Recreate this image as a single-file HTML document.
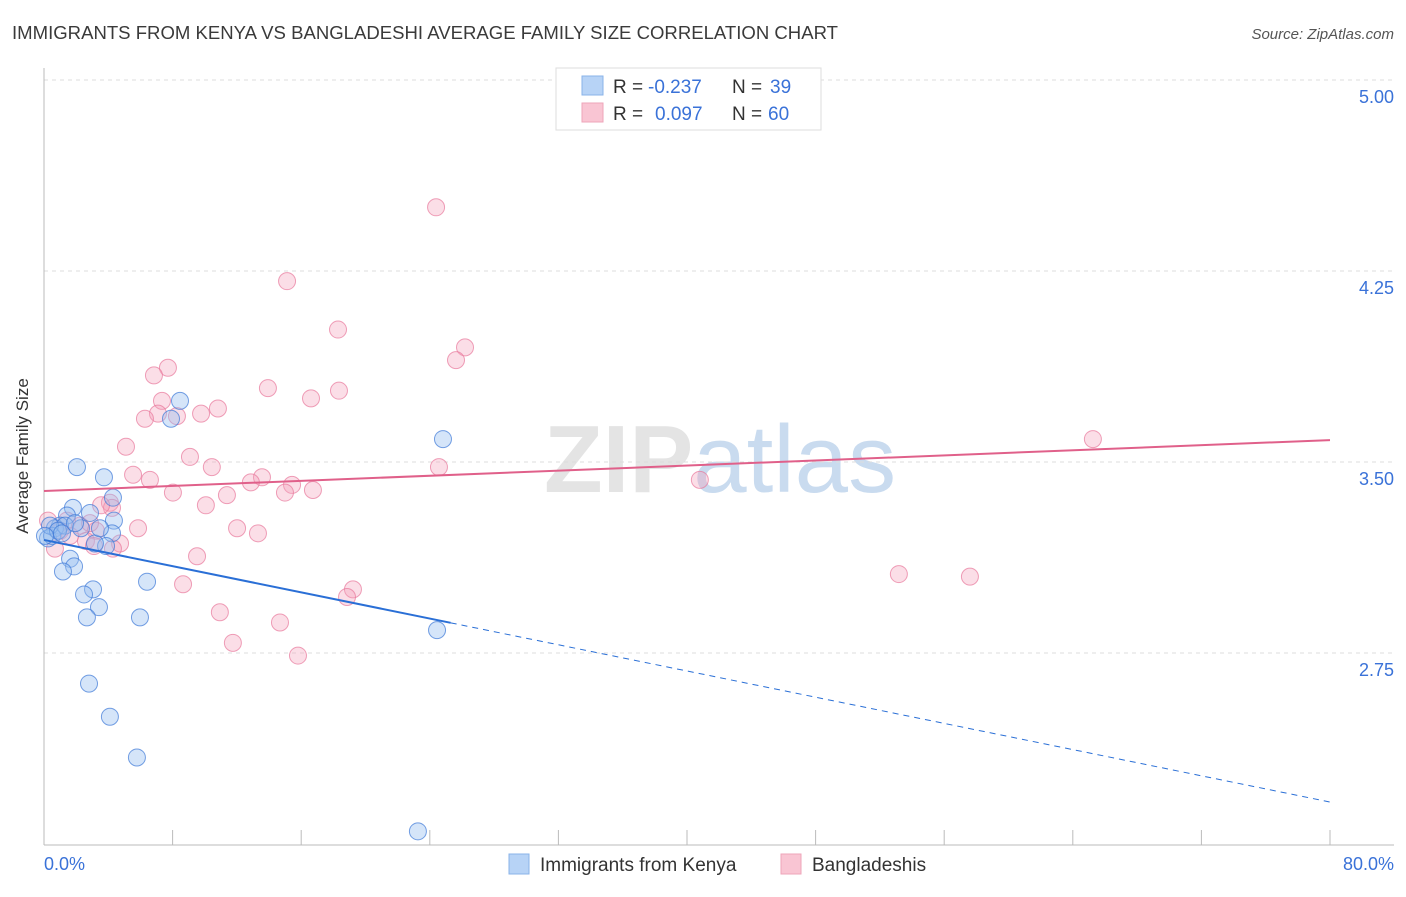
<!DOCTYPE html>
<html><head><meta charset="utf-8"><style>
body{margin:0;background:#fff;font-family:"Liberation Sans",sans-serif;}
svg text{font-family:"Liberation Sans",sans-serif;}
</style></head><body>
<svg id="c" width="1406" height="892">
<text x="12" y="39" font-size="18" fill="#3a3a3a" textLength="826" lengthAdjust="spacingAndGlyphs">IMMIGRANTS FROM KENYA VS BANGLADESHI AVERAGE FAMILY SIZE CORRELATION CHART</text>
<text x="1394" y="39" font-size="15" fill="#555" text-anchor="end" font-style="italic">Source: ZipAtlas.com</text>
<text x="720" y="492" font-size="96" fill="#e4e4e4" text-anchor="middle" font-weight="bold">ZIP<tspan fill="#c9dbef" font-weight="normal">atlas</tspan></text>
<g id="grid"></g><g id="axes"></g><g id="pts"></g><g id="lines"></g>
<text x="28" y="456" font-size="17" fill="#333" text-anchor="middle" transform="rotate(-90 28 456)">Average Family Size</text>
<text x="44" y="870" font-size="18" fill="#3a72d8">0.0%</text>
<text x="1394" y="870" font-size="18" fill="#3a72d8" text-anchor="end">80.0%</text>
<g>
<rect x="556" y="68" width="265" height="62" fill="#fff" stroke="#ddd"/>
<rect x="582" y="76" width="21" height="19" fill="#b7d3f6" stroke="#8ab3e8"/>
<rect x="582" y="103" width="21" height="19" fill="#f9c5d3" stroke="#eea5b9"/>
<text x="613" y="93" font-size="19" fill="#333">R = <tspan x="648" fill="#3a72d8">-0.237</tspan><tspan x="732">N = </tspan><tspan x="770" fill="#3a72d8">39</tspan></text>
<text x="613" y="120" font-size="19" fill="#333">R = <tspan x="655" fill="#3a72d8">0.097</tspan><tspan x="732">N = </tspan><tspan x="768" fill="#3a72d8">60</tspan></text>
</g>
<g>
<rect x="509" y="854" width="20" height="20" fill="#b7d3f6" stroke="#8ab3e8"/>
<text x="540" y="871" font-size="19" fill="#333">Immigrants from Kenya</text>
<rect x="781" y="854" width="20" height="20" fill="#f9c5d3" stroke="#eea5b9"/>
<text x="812" y="871" font-size="19" fill="#333">Bangladeshis</text>
</g>
</svg>
<script>
const yTicks=[2.75,3.5,4.25,5.0];
const yTickLabels=["2.75","3.50","4.25","5.00"];
const xTicks=[0,8,16,24,32,40,48,56,64,72,80];
const kenyaX=[2.05,3.73,4.29,8.46,7.9,24.82,1.8,1.43,2.86,4.35,1.0,0.68,0.25,0.5,1.31,2.3,4.23,3.86,3.17,1.62,1.87,1.18,3.05,2.49,3.42,2.67,5.97,6.41,24.45,2.8,4.1,5.78,23.26,0.37,0.87,0.06,1.12,1.93,3.48];
const kenyaY=[3.48,3.44,3.36,3.74,3.67,3.59,3.32,3.29,3.3,3.27,3.25,3.24,3.2,3.21,3.25,3.24,3.22,3.17,3.18,3.12,3.09,3.07,3.0,2.98,2.93,2.89,2.89,3.03,2.84,2.63,2.5,2.34,2.05,3.25,3.23,3.21,3.22,3.26,3.24];
const bangX=[24.39,15.12,18.29,26.19,25.63,7.71,6.84,13.93,18.35,16.61,7.34,10.82,7.09,9.77,8.27,6.28,5.1,9.08,10.44,24.57,5.54,6.59,13.56,12.87,15.43,16.73,14.99,8.02,11.38,10.07,4.1,4.23,3.55,5.85,12.01,13.31,1.43,2.24,3.23,0.68,2.61,4.73,4.29,3.11,9.52,8.65,19.22,18.85,10.94,14.68,11.75,15.8,40.8,65.25,53.18,57.6,0.25,1.0,1.62,2.86];
const bangY=[4.5,4.21,4.02,3.95,3.9,3.87,3.84,3.79,3.78,3.75,3.74,3.71,3.69,3.69,3.68,3.67,3.56,3.52,3.48,3.48,3.45,3.43,3.44,3.42,3.41,3.39,3.38,3.38,3.37,3.33,3.34,3.32,3.33,3.24,3.24,3.22,3.27,3.25,3.23,3.16,3.19,3.18,3.16,3.17,3.13,3.02,3.0,2.97,2.91,2.87,2.79,2.74,3.43,3.59,3.06,3.05,3.27,3.23,3.21,3.26];
const kenyaFit=[3.194,2.165];
const bangFit=[3.386,3.586];
const X=v=>44+v/80*1286, Y=v=>462-(v-3.5)*254.7;
const ns="http://www.w3.org/2000/svg";
function mk(t,a,p){const e=document.createElementNS(ns,t);for(const k in a)e.setAttribute(k,a[k]);document.getElementById(p).appendChild(e);return e;}
yTicks.forEach((t,i)=>{
 const g=mk('line',{x1:44,x2:1394,y1:Y(t),y2:Y(t),stroke:'#ddd','stroke-dasharray':'4,4'},'grid');
 
 
 const l=mk('text',{x:1394,y:Y(t)+23,'font-size':18,fill:'#3a72d8','text-anchor':'end'},'axes');
 l.textContent=yTickLabels[i];
 
 
});
const ax=mk('line',{x1:44,x2:44,y1:68,y2:845,stroke:'#bbb'},'axes');


const bx=mk('line',{x1:44,x2:1394,y1:845,y2:845,stroke:'#bbb'},'axes');


xTicks.forEach(t=>{
 const k=mk('line',{x1:X(t),x2:X(t),y1:830,y2:845,stroke:'#bbb'},'axes');
 
 
});
bangX.forEach((x,i)=>{
 const c=mk('circle',{cx:X(x),cy:Y(bangY[i]),r:8.5,fill:'rgba(244,160,185,0.35)',stroke:'rgba(232,120,155,0.7)','stroke-width':1},'pts');
 
 
});
kenyaX.forEach((x,i)=>{
 const c=mk('circle',{cx:X(x),cy:Y(kenyaY[i]),r:8.5,fill:'rgba(150,190,240,0.4)',stroke:'rgba(60,120,215,0.7)','stroke-width':1},'pts');
 
 
});
const ky=x=>kenyaFit[0]+(kenyaFit[1]-kenyaFit[0])*x/80;
const k1=mk('line',{x1:X(0),y1:Y(ky(0)),x2:X(25.3),y2:Y(ky(25.3)),stroke:'#2a6fd6','stroke-width':2},'lines');


const k2=mk('line',{x1:X(25.3),y1:Y(ky(25.3)),x2:X(80),y2:Y(ky(80)),stroke:'#2a6fd6','stroke-width':1,'stroke-dasharray':'6,5'},'lines');


const b1=mk('line',{x1:X(0),y1:Y(bangFit[0]),x2:X(80),y2:Y(bangFit[1]),stroke:'#e0608a','stroke-width':2},'lines');


</script>
</body></html>
